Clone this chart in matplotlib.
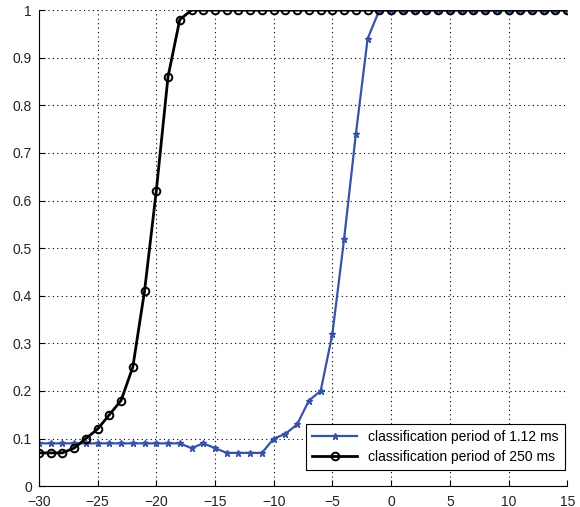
import matplotlib
matplotlib.use("Agg")
from matplotlib import pyplot as plt

plt.rcParams['font.family'] = ['Liberation Sans', 'DejaVu Sans']

snr = list(range(-30, 16))

# classification period of 1.12 ms
prob_short = [0.09, 0.09, 0.09, 0.09, 0.09, 0.09, 0.09, 0.09, 0.09, 0.09,
              0.09, 0.09, 0.09, 0.08, 0.09, 0.08, 0.07, 0.07, 0.07, 0.07,
              0.10, 0.11, 0.13, 0.18, 0.20, 0.32, 0.52, 0.74, 0.94, 1.0] + [1.0] * 16

# classification period of 250 ms
prob_long = [0.07, 0.07, 0.07, 0.08, 0.10, 0.12, 0.15, 0.18, 0.25, 0.41,
             0.62, 0.86, 0.98] + [1.0] * 33

fig = plt.figure(figsize=(5.8, 5.07), dpi=100)
ax = fig.add_axes([0.067, 0.041, 0.911, 0.939])

ax.plot(snr, prob_short, color='#3653a6', lw=1.6, marker='*', ms=5,
        label='classification period of 1.12 ms')
ax.plot(snr, prob_long, color='black', lw=2, marker='o', ms=5.5,
        mfc='none', mew=1.4, label='classification period of 250 ms')

ax.set_xlim(-30, 15)
ax.set_ylim(0, 1)
ax.set_xticks(range(-30, 16, 5))
ax.set_yticks([i / 10 for i in range(11)])
ax.set_yticklabels(['0', '0.1', '0.2', '0.3', '0.4', '0.5', '0.6', '0.7', '0.8', '0.9', '1'])
ax.tick_params(direction='in', labelsize=10, length=4, width=0.8)
ax.tick_params(axis='y', pad=5)
ax.tick_params(axis='x', pad=6)
ax.spines['top'].set_visible(False)
ax.spines['right'].set_visible(False)
ax.grid(color='black', linestyle=(0, (1, 3)), linewidth=0.8)
for lbl in ax.get_xticklabels() + ax.get_yticklabels():
    lbl.set_color('#222222')

leg = ax.legend(loc='lower right', bbox_to_anchor=(1.003, 0.025), fontsize=10,
                fancybox=False, framealpha=1, edgecolor='black', handlelength=3.2,
                borderpad=0.45, labelspacing=0.4, borderaxespad=0.3)
leg.get_frame().set_linewidth(0.8)

fig.savefig('out.png', dpi=100)
